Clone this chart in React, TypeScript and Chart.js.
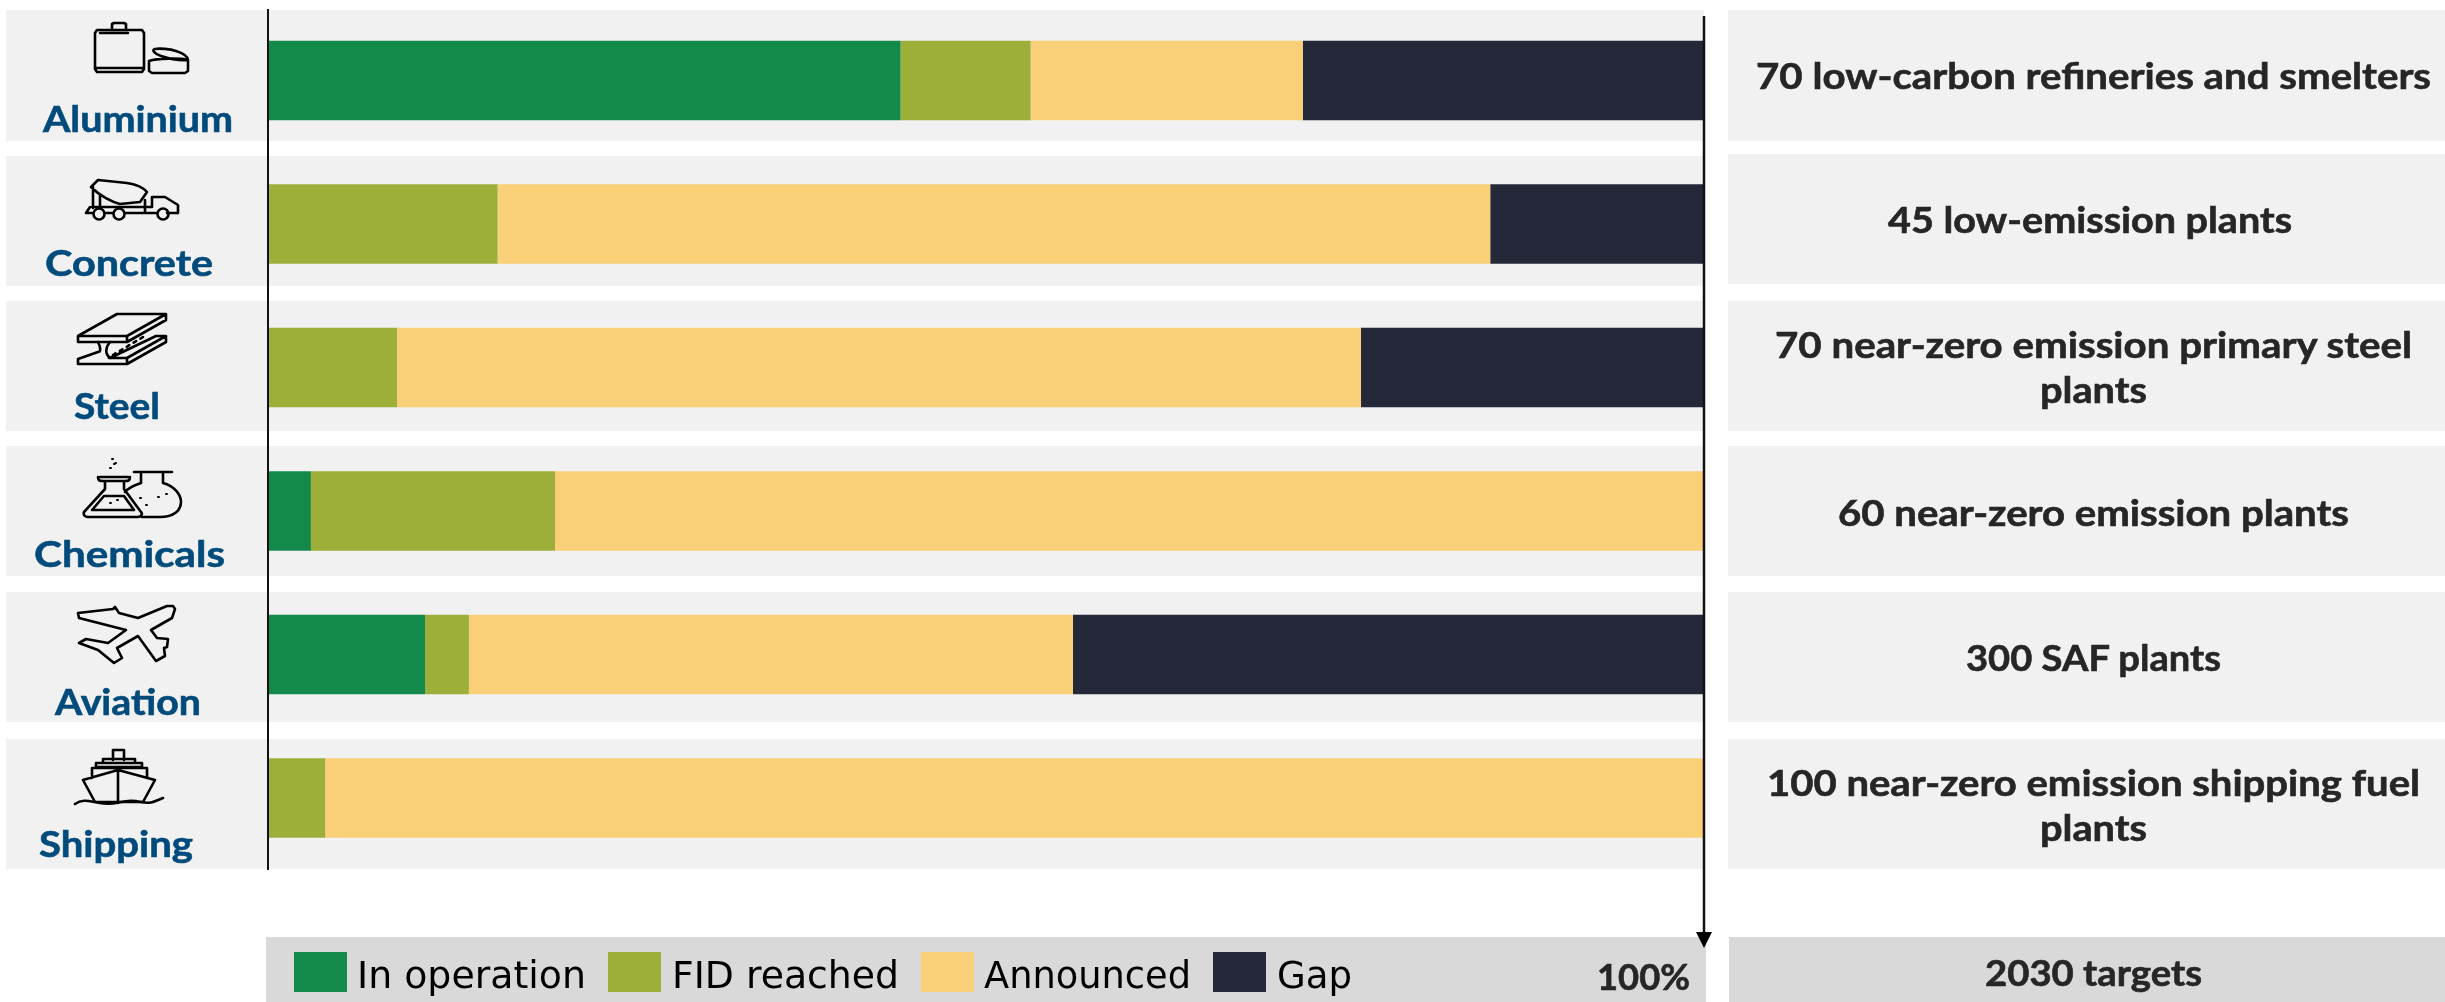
import React, { useEffect, useRef } from "react";
import { Chart, registerables } from "chart.js";

Chart.register(...registerables);

const categories = ["Aluminium", "Concrete", "Steel", "Chemicals", "Aviation", "Shipping"];
const inOperation = [44, 0, 0, 2.95, 10.9, 0];
const fidReached = [9.05, 15.95, 8.95, 17, 3.05, 3.95];
const announced = [18.95, 69.1, 67.1, 80.05, 42.05, 96.05];
const gap = [28, 14.95, 23.95, 0, 44, 0];
const seriesNames = ["In operation", "FID reached", "Announced", "Gap"];
const seriesColors = ["#138a4a", "#9dae39", "#f9cf78", "#242838"];
const targets = [
  ["70 low-carbon refineries and smelters"],
  ["45 low-emission plants"],
  ["70 near-zero emission primary steel", "plants"],
  ["60 near-zero emission plants"],
  ["300 SAF plants"],
  ["100 near-zero emission shipping fuel", "plants"],
];

const W = 2445, H = 1002;
const bandY = [[10, 141], [156, 286], [301, 431], [446, 576], [592, 722], [739, 869]];
const rightY = [[10, 141], [154, 284], [301, 431], [446, 576], [592, 722], [739, 869]];
const labelPos = [[43, 233, 132], [45, 213, 276], [74, 160, 419], [34, 225, 567], [55, 201, 715], [39, 193, 857]];
const targetPos = [
  [[1756, 2431, 89]],
  [[1888, 2292, 233]],
  [[1775, 2412, 358], [2040, 2147, 403]],
  [[1838, 2349, 526]],
  [[1966, 2221, 671]],
  [[1767, 2420, 796], [2040, 2147, 841]],
];
const BOLD = "Lato, 'Open Sans', sans-serif";

function Icons() {
  const s = { fill: "none", stroke: "#000", strokeWidth: 2.6, strokeLinejoin: "round", strokeLinecap: "round" } as const;
  return (
    <g {...s}>
      {/* can + tin */}
      <path d="M112 29v-5l2-1h10l2 1v5M97 30h45l2 3v36l-2 3H97l-2-3V33zM100 33h28M96 68h46" />
      <path d="M149 61c8-3 32-3 39-1v11l-3 2h-33l-3-2zM155 49c-4 1 0 5 6 7s18 5 27 4c0-4-6-7-12-9s-17-3-21-2z" />
      {/* truck */}
      <path d="M91 187l7-7 29 3c9 1 17 5 20 9l-7 10-20 2c-8-2-20-8-29-17zM93 187v21M100 195v13M145 200v8M152 207v-10h13l13 8v8h-11M92 207h60M86 213l4-6M86 213h6M106 213h7M125 213h32M145 207v6" />
      <circle cx="99" cy="214" r="5.5" /><circle cx="119" cy="214" r="5.5" /><circle cx="163" cy="214" r="5.5" />
      {/* steel beam */}
      <path d="M117 314h49v6l-39 22H78v-6zM78 336h49l39-22M127 336v6" />
      <path d="M98 342c3 6 3 10 0 10l-20 7v5h49l39-22v-6h-10l-46 22h-1M110 342c-5 6-5 12 0 16M127 358v6M110 358h17l39-22" />
      <path d="M113 355l30-18" strokeDasharray="3 5" />
      {/* flasks */}
      <path d="M100 477h28M103 481h22M98 477c0 4 2 4 5 4M130 477c0 4-2 4-5 4M105 481v8l-21 23c-1 3 1 5 4 5h50c3 0 5-3 3-5l-17-23v-8M92 510l12-14h20l10 14z" />
      <path d="M134 472h38M141 474v9M163 474v9c23 6 26 34-3 34h-18M141 483c-6 2-12 4-16 9" />
      <path d="M114 464l2-1M112 459h1M110 468h1M110 503h1M117 500h1M140 498h1M158 497h1M166 494h1M146 505h1" strokeWidth={2} />
      {/* plane */}
      <path d="M78 613l35-4 2-2 4 6 19 5 29-12h6l2 3-3 9-21 12 6 8 11 1-1 8-3 1 1 8-9 5-18-25-21 12 5 10-8 5-16-13-19-7 7-4 22 4 18-13-47-12z" />
      {/* ship */}
      <path d="M113 760v-10h11v10M103 763v-4h32v4M96 767v-4h46v4zM92 778v-10h55v10M83 780l35-10 37 10-12 22H95zM118 770v33" />
      <path d="M75 804c7-5 14-3 20-2s12 3 21 1 15-3 25-1 12 0 22-4" />
    </g>
  );
}

export default function App() {
  const ref = useRef<HTMLCanvasElement>(null);
  useEffect(() => {
    document.body.style.margin = "0";
    const values = [inOperation, fidReached, announced, gap];
    const chart = new Chart(ref.current!, {
      type: "bar",
      data: {
        labels: categories,
        datasets: seriesNames.map((n, i) => ({
          label: n,
          data: values[i],
          backgroundColor: seriesColors[i],
          barPercentage: 0.554,
          categoryPercentage: 1,
        })),
      },
      options: {
        indexAxis: "y",
        responsive: false,
        animation: false,
        layout: { padding: { left: 268.5, right: W - 1705, top: 8.75, bottom: H - 869.75 } },
        plugins: { legend: { display: false }, tooltip: { enabled: false } },
        scales: {
          x: { stacked: true, min: 0, max: 100, display: false },
          y: { stacked: true, display: false },
        },
      },
    });
    return () => chart.destroy();
  }, []);

  const swatchX = [294, 608, 921, 1213];
  const legendText = [[357, 229], [672, 227], [984, 207], [1277, 75]];
  const heavy = { stroke: "#262626", strokeWidth: 0.6 };

  return (
    <div style={{ position: "absolute", left: 0, top: 0, width: W, height: H, overflow: "hidden", background: "#fff" }}>
      <svg width={W} height={H} style={{ position: "absolute", left: 0, top: 0 }}>
        {bandY.map(([a, b], i) => <rect key={i} x={6} y={a} width={1698} height={b - a} fill="#f1f1f1" />)}
        {rightY.map(([a, b], i) => <rect key={i} x={1728} y={a} width={W - 1728} height={b - a} fill="#f1f1f1" />)}
        <rect x={266} y={937} width={1440} height={65} fill="#d9d9d9" />
        <rect x={1729} y={937} width={W - 1729} height={65} fill="#d9d9d9" />
      </svg>
      <canvas ref={ref} width={W} height={H} style={{ position: "absolute", left: 0, top: 0, display: "block" }} />
      <svg width={W} height={H} style={{ position: "absolute", left: 0, top: 0 }}>
        <line x1={268} y1={9} x2={268} y2={870} stroke="#111" strokeWidth={2} />
        <line x1={1704} y1={16} x2={1704} y2={936} stroke="#111" strokeWidth={2.5} />
        <path d="M1696 932h16l-8 16z" fill="#000" />
        <Icons />
        {categories.map((c, i) => (
          <text key={c} x={labelPos[i][0]} y={labelPos[i][2]} textLength={labelPos[i][1] - labelPos[i][0]} lengthAdjust="spacingAndGlyphs"
            style={{ font: `700 37px ${BOLD}` }} fill="#004b7c" stroke="#004b7c" strokeWidth={0.6}>{c}</text>
        ))}
        {targets.map((lines, i) => lines.map((t, j) => (
          <text key={i + "-" + j} x={targetPos[i][j][0]} y={targetPos[i][j][2]} textLength={targetPos[i][j][1] - targetPos[i][j][0]} lengthAdjust="spacingAndGlyphs"
            style={{ font: `700 36px ${BOLD}` }} fill="#262626" {...heavy}>{t}</text>
        )))}
        {seriesNames.map((n, i) => (
          <g key={n}>
            <rect x={swatchX[i]} y={952} width={53} height={40} fill={seriesColors[i]} />
            <text x={legendText[i][0]} y={988} textLength={legendText[i][1]} lengthAdjust="spacingAndGlyphs"
              style={{ font: "37px 'DejaVu Sans', sans-serif" }} fill="#000">{n}</text>
          </g>
        ))}
        <text x={1597} y={990} textLength={93} lengthAdjust="spacingAndGlyphs" style={{ font: `700 36px ${BOLD}` }} fill="#262626" {...heavy}>100%</text>
        <text x={1985} y={986} textLength={217} lengthAdjust="spacingAndGlyphs" style={{ font: `700 36px ${BOLD}` }} fill="#262626" {...heavy}>2030 targets</text>
      </svg>
    </div>
  );
}
